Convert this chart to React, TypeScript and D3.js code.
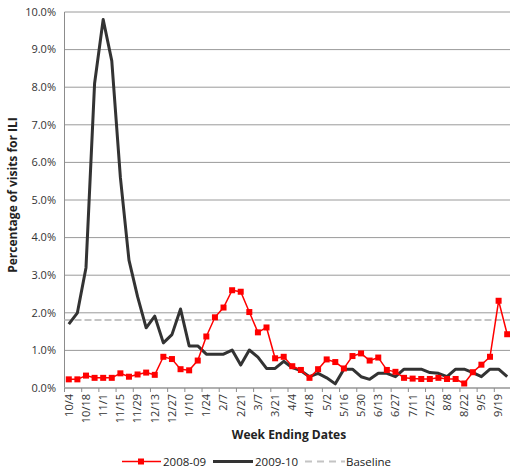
import React from "react";
import * as d3 from "d3";

// Week ending dates (Oct 2008 – Sep 2009 calendar)
const weeks = [
  "10/4", "10/11", "10/18", "10/25", "11/1", "11/8", "11/15", "11/22", "11/29",
  "12/6", "12/13", "12/20", "12/27", "1/3", "1/10", "1/17", "1/24", "1/31",
  "2/7", "2/14", "2/21", "2/28", "3/7", "3/14", "3/21", "3/28", "4/4", "4/11",
  "4/18", "4/25", "5/2", "5/9", "5/16", "5/23", "5/30", "6/6", "6/13", "6/20",
  "6/27", "7/4", "7/11", "7/18", "7/25", "8/1", "8/8", "8/15", "8/22", "8/29",
  "9/5", "9/12", "9/19", "9/26",
];

// Percentage of visits for ILI, 2008-09 season
const season0809 = [
  0.23, 0.23, 0.33, 0.27, 0.27, 0.27, 0.39, 0.3, 0.36, 0.41, 0.35, 0.83, 0.77,
  0.5, 0.47, 0.73, 1.37, 1.88, 2.14, 2.6, 2.56, 2.02, 1.48, 1.61, 0.79, 0.83,
  0.58, 0.48, 0.27, 0.5, 0.76, 0.69, 0.52, 0.85, 0.92, 0.73, 0.81, 0.48, 0.43,
  0.27, 0.25, 0.24, 0.24, 0.27, 0.24, 0.24, 0.12, 0.42, 0.62, 0.83, 2.32, 1.43,
];

// Percentage of visits for ILI, 2009-10 season
const season0910 = [
  1.7, 2.0, 3.2, 8.1, 9.8, 8.7, 5.6, 3.4, 2.43, 1.6, 1.91, 1.2, 1.42, 2.1, 1.12,
  1.12, 0.9, 0.9, 0.9, 1.01, 0.61, 1.01, 0.82, 0.52, 0.52, 0.71, 0.54, 0.46,
  0.3, 0.39, 0.27, 0.11, 0.5, 0.5, 0.3, 0.23, 0.39, 0.39, 0.3, 0.5, 0.5, 0.5,
  0.41, 0.39, 0.3, 0.5, 0.5, 0.41, 0.3, 0.5, 0.5, 0.3,
];

const baseline = 1.81;

const yTicks = [0, 1, 2, 3, 4, 5, 6, 7, 8, 9, 10];

const W = 510;
const H = 469;
const left = 64.5;
const right = 511.5;
const top = 12;
const bottom = 388;
const FONT = "'Open Sans', 'Liberation Sans', Arial, sans-serif";

export default function App() {
  const x = d3.scaleBand<string>().domain(weeks).range([left, right]).padding(0);
  const cx = (w: string) => (x(w) as number) + x.bandwidth() / 2;
  const y = d3.scaleLinear().domain([0, 10]).range([bottom, top]);

  const line = d3
    .line<number>()
    .x((_, i) => cx(weeks[i]))
    .y((v) => y(v));

  const labelled = weeks.filter((_, i) => i % 2 === 0);

  return (
    <svg
      width={W}
      height={H}
      style={{ position: "absolute", left: 0, top: 0, background: "#fff" }}
      fontFamily={FONT}
    >
      {/* horizontal gridlines */}
      {yTicks.map((t) => (
        <line
          key={t}
          x1={left}
          x2={right}
          y1={y(t)}
          y2={y(t)}
          stroke="#9a9a9a"
          strokeWidth={1}
        />
      ))}
      {/* y tick labels */}
      {yTicks.map((t) => (
        <text
          key={"l" + t}
          x={56}
          y={y(t)}
          dy="0.35em"
          textAnchor="end"
          fontSize={11}
          fill="#333"
        >
          {d3.format(".1f")(t) + "%"}
        </text>
      ))}
      {/* axes */}
      <line x1={left} x2={left} y1={top} y2={bottom} stroke="#8c8c8c" strokeWidth={1} />
      <line x1={left} x2={right} y1={bottom} y2={bottom} stroke="#b0b0b0" strokeWidth={2} />
      {/* x tick marks */}
      {weeks.map((w, i) =>
        i % 2 === 0 ? (
          <line
            key={"t" + w}
            x1={x(w) as number}
            x2={x(w) as number}
            y1={bottom}
            y2={bottom + 4}
            stroke="#8c8c8c"
          />
        ) : null
      )}
      {/* x tick labels */}
      {labelled.map((w) => (
        <text
          key={"x" + w}
          transform={`translate(${cx(w)},${bottom + 6}) rotate(-90)`}
          textAnchor="end"
          dy="0.35em"
          fontSize={11}
          fill="#333"
        >
          {w}
        </text>
      ))}
      {/* baseline */}
      <line
        x1={left}
        x2={right}
        y1={y(baseline)}
        y2={y(baseline)}
        stroke="#c4c4c4"
        strokeWidth={2}
        strokeDasharray="7 3"
      />
      {/* 2009-10 */}
      <path d={line(season0910) ?? ""} fill="none" stroke="#333" strokeWidth={3} strokeLinejoin="round" />
      {/* 2008-09 */}
      <path d={line(season0809) ?? ""} fill="none" stroke="#ff0000" strokeWidth={1.5} />
      {season0809.map((v, i) => (
        <rect
          key={"m" + i}
          x={cx(weeks[i]) - 3}
          y={y(v) - 3}
          width={6}
          height={6}
          fill="#ff0000"
        />
      ))}
      {/* axis titles */}
      <text
        transform={`translate(17,${(top + bottom) / 2 - 5}) rotate(-90)`}
        textAnchor="middle"
        fontSize={12}
        fontWeight="bold"
        fill="#222"
      >
        Percentage of visits for ILI
      </text>
      <text x={289} y={439} textAnchor="middle" fontSize={12} fontWeight="bold" fill="#222">
        Week Ending Dates
      </text>
      {/* legend */}
      <g fontSize={11.5} fill="#222">
        <line x1={122} x2={161} y1={461.5} y2={461.5} stroke="#ff0000" strokeWidth={1.5} />
        <rect x={138} y={458.5} width={6} height={6} fill="#ff0000" />
        <text x={163} y={465.5}>2008-09</text>
        <line x1={213} x2={253} y1={461.5} y2={461.5} stroke="#333" strokeWidth={3} />
        <text x={255} y={465.5}>2009-10</text>
        <line
          x1={305}
          x2={345}
          y1={461.5}
          y2={461.5}
          stroke="#c4c4c4"
          strokeWidth={2}
          strokeDasharray="7 5"
        />
        <text x={346} y={465.5}>Baseline</text>
      </g>
    </svg>
  );
}
